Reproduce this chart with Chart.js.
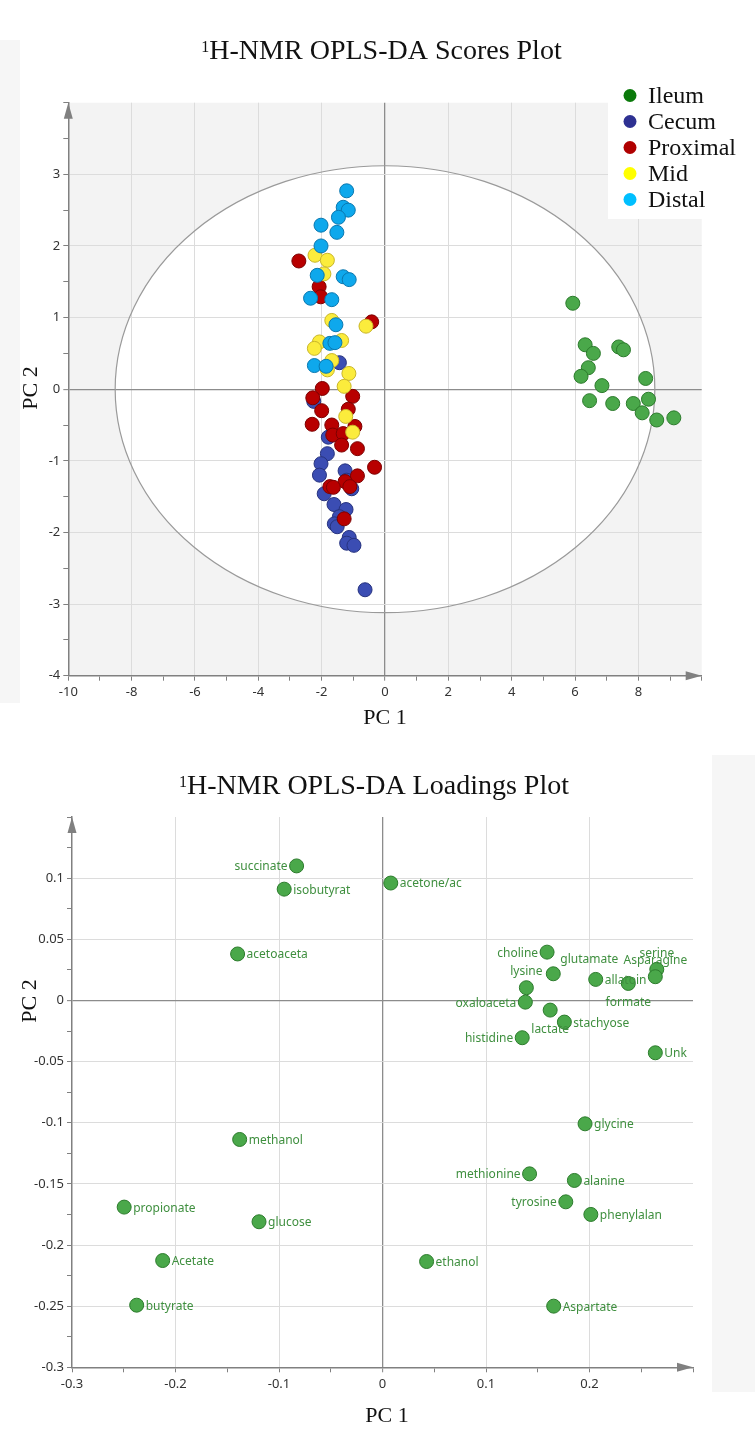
<!DOCTYPE html>
<html>
<head>
<meta charset="utf-8">
<title>1H-NMR OPLS-DA</title>
<script src="https://cdn.jsdelivr.net/npm/chart.js@4"></script>
<style>
  html, body { margin: 0; padding: 0; background: #fff; }
  body { width: 755px; height: 1435px; position: relative; overflow: hidden; }
  .panel { position: absolute; left: 0; }
  .strip { position: absolute; background: #f6f6f6; }
</style>
</head>
<body>
<div class="strip" style="left:0;top:40px;width:20px;height:663px"></div>
<div class="strip" style="left:712px;top:755px;width:43px;height:637px"></div>
<div class="panel" style="top:0"><canvas id="scores" width="755" height="735"></canvas></div>
<div class="panel" style="top:740px"><canvas id="loadings" width="755" height="695"></canvas></div>
<script>
// ---------- Scores (PC1, PC2) per intestinal segment ----------
const groupNames = ['Ileum', 'Cecum', 'Proximal', 'Mid', 'Distal'];

const ileumScores = [
  [5.93, 1.20], [6.32, 0.62], [6.58, 0.50], [7.38, 0.59], [7.53, 0.55], [6.42, 0.30],
  [6.19, 0.18], [8.23, 0.15], [6.85, 0.05], [6.46, -0.16], [7.19, -0.20], [7.84, -0.20],
  [8.32, -0.14], [8.12, -0.33], [8.58, -0.43], [9.12, -0.40]
];
const cecumScores = [
  [-1.44, 0.37], [-2.25, -0.17], [-1.79, -0.67], [-1.82, -0.90], [-2.02, -1.04], [-2.07, -1.20],
  [-1.26, -1.14], [-1.21, -1.27], [-1.05, -1.39], [-1.92, -1.46], [-1.61, -1.61], [-1.23, -1.68],
  [-1.44, -1.78], [-1.60, -1.88], [-1.51, -1.92], [-1.13, -2.07], [-1.21, -2.15], [-0.98, -2.18],
  [-0.63, -2.80]
];
const proximalScores = [
  [-2.72, 1.79], [-2.08, 1.43], [-2.03, 1.29], [-0.42, 0.94], [-1.98, 0.01], [-2.28, -0.12],
  [-1.02, -0.10], [-2.00, -0.30], [-1.16, -0.28], [-2.30, -0.49], [-0.95, -0.52], [-1.68, -0.50],
  [-1.65, -0.64], [-1.32, -0.62], [-1.37, -0.78], [-0.87, -0.83], [-0.33, -1.09], [-0.87, -1.21],
  [-1.26, -1.29], [-1.11, -1.36], [-1.74, -1.36], [-1.63, -1.37], [-1.29, -1.81]
];
const midScores = [
  [-2.21, 1.87], [-1.82, 1.80], [-1.93, 1.61], [-1.68, 0.96], [-0.60, 0.88], [-1.37, 0.68],
  [-2.07, 0.66], [-2.23, 0.57], [-1.68, 0.40], [-1.82, 0.27], [-1.14, 0.22], [-1.29, 0.04],
  [-1.24, -0.38], [-1.02, -0.60]
];
const distalScores = [
  [-1.21, 2.77], [-1.32, 2.54], [-1.16, 2.50], [-1.47, 2.40], [-2.02, 2.29], [-1.52, 2.19],
  [-2.02, 2.00], [-2.14, 1.59], [-1.32, 1.57], [-1.13, 1.53], [-2.35, 1.27], [-1.68, 1.25],
  [-1.55, 0.90], [-1.74, 0.64], [-1.58, 0.65], [-2.23, 0.33], [-1.86, 0.32]
];
const groupScores = [ileumScores, cecumScores, proximalScores, midScores, distalScores];

// Hotelling T2 (95%) ellipse semi-axes, in PC1 / PC2 units
const t2Ellipse = [8.52, 3.12];

// ---------- Loadings ----------
const loadingNames = [
  'succinate', 'isobutyrat', 'acetone/ac', 'acetoaceta', 'choline', 'glutamate', 'lysine',
  'oxaloaceta', 'allatoin', 'formate', 'serine', 'Asparagine', 'lactate', 'stachyose',
  'histidine', 'Unk', 'glycine', 'methanol', 'methionine', 'alanine', 'tyrosine',
  'phenylalan', 'propionate', 'glucose', 'Acetate', 'ethanol', 'butyrate', 'Aspartate'
];
const loadingPC1 = [
  -0.083, -0.095, 0.008, -0.140, 0.159, 0.165, 0.139,
  0.138, 0.206, 0.2375, 0.265, 0.2636, 0.162, 0.1757,
  0.135, 0.2636, 0.1957, -0.138, 0.1421, 0.1854, 0.1771,
  0.2013, -0.2496, -0.1193, -0.2124, 0.0426, -0.2375, 0.1654
];
const loadingPC2 = [
  0.110, 0.091, 0.096, 0.038, 0.0395, 0.0218, 0.0104,
  -0.0014, 0.0172, 0.0139, 0.0254, 0.0194, -0.0079, -0.0177,
  -0.0305, -0.0428, -0.1009, -0.1137, -0.1418, -0.1472, -0.1647,
  -0.175, -0.169, -0.181, -0.2127, -0.2135, -0.2492, -0.250
];

// ---------- Styling ----------
const pointFill = ['#4aa84a', '#3b4db3', '#b80000', '#fbec3c', '#0ea8ec'];
const pointEdge = ['#2c7b2c', '#27337f', '#7d0000', '#c9b62a', '#0a78b0'];
const legendDot = ['#0b7a0b', '#2e3192', '#b00000', '#ffff00', '#00bfff'];
const labelSide = {
  succinate: 'left', choline: 'left', oxaloaceta: 'left', histidine: 'left',
  methionine: 'left', tyrosine: 'left', glutamate: 'aboveRight', lysine: 'above',
  serine: 'above', Asparagine: 'above', formate: 'below', lactate: 'below'
};

const serif = '"Liberation Serif", "Times New Roman", serif';
const sans = '"Noto Sans", "Open Sans", sans-serif';
const tickFont = { family: sans, size: 13 };

function makeScale(min, max, minor, major, size, horizontal) {
  const eps = minor / 10;
  const k = Math.round(major / minor);
  const isMajor = v => Math.abs(Math.round(v / minor) % k) === 0;
  return {
    type: 'linear', min, max,
    afterFit: s => { if (horizontal) s.height = size; else s.width = size; },
    border: { display: true, color: '#808080', width: 1.5 },
    grid: {
      color: c => {
        const v = c.tick.value;
        if (Math.abs(v) < eps) return '#8c8c8c';
        if (Math.abs(v - min) < eps || Math.abs(v - max) < eps) return 'rgba(0,0,0,0)';
        return isMajor(v) ? '#dcdcdc' : 'rgba(0,0,0,0)';
      },
      lineWidth: c => Math.abs(c.tick.value) < eps ? 1.3 : 1,
      drawTicks: true, tickLength: 5, tickWidth: 1, tickColor: '#808080'
    },
    ticks: {
      stepSize: minor, autoSkip: false, maxRotation: 0, maxTicksLimit: 1000,
      padding: horizontal ? 4 : 3, color: '#333', font: tickFont,
      callback: v => (isMajor(v) && Math.abs(v - max) > eps) ? String(Math.round(v * 1000) / 1000) : ''
    }
  };
}

function drawArrows(chart) {
  const { ctx, chartArea: a } = chart;
  ctx.save();
  ctx.fillStyle = '#808080';
  ctx.beginPath();
  ctx.moveTo(a.left, a.top);
  ctx.lineTo(a.left - 4.5, a.top + 16);
  ctx.lineTo(a.left + 4.5, a.top + 16);
  ctx.closePath();
  ctx.fill();
  ctx.beginPath();
  ctx.moveTo(a.right, a.bottom);
  ctx.lineTo(a.right - 16, a.bottom - 4.5);
  ctx.lineTo(a.right - 16, a.bottom + 4.5);
  ctx.closePath();
  ctx.fill();
  ctx.restore();
}

function drawTitle(ctx, text, cx, baseline) {
  ctx.save();
  ctx.fillStyle = '#111';
  ctx.textAlign = 'left';
  ctx.textBaseline = 'alphabetic';
  ctx.font = '28px ' + serif;
  const mainW = ctx.measureText(text).width;
  ctx.font = '16px ' + serif;
  const supW = ctx.measureText('1').width;
  const x0 = cx - (mainW + supW) / 2;
  ctx.fillText('1', x0, baseline - 7);
  ctx.font = '28px ' + serif;
  ctx.fillText(text, x0 + supW, baseline);
  ctx.restore();
}

function drawAxisTitles(ctx, xText, xPos, yText, yPos) {
  ctx.save();
  ctx.fillStyle = '#111';
  ctx.font = '22px ' + serif;
  ctx.textAlign = 'center';
  ctx.textBaseline = 'middle';
  ctx.fillText(xText, xPos[0], xPos[1]);
  ctx.translate(yPos[0], yPos[1]);
  ctx.rotate(-Math.PI / 2);
  ctx.fillText(yText, 0, 0);
  ctx.restore();
}

// ---------- Scores plot ----------
const scoresDecor = {
  id: 'scoresDecor',
  beforeDraw(chart) {
    const { ctx, chartArea: a, scales: { x, y } } = chart;
    ctx.save();
    ctx.fillStyle = '#f3f3f3';
    ctx.fillRect(a.left, a.top, a.right - a.left, a.bottom - a.top);
    const cx = x.getPixelForValue(0), cy = y.getPixelForValue(0);
    const rx = x.getPixelForValue(t2Ellipse[0]) - cx;
    const ry = cy - y.getPixelForValue(t2Ellipse[1]);
    ctx.beginPath();
    ctx.ellipse(cx, cy, rx, ry, 0, 0, Math.PI * 2);
    ctx.fillStyle = '#ffffff';
    ctx.fill();
    ctx.restore();
  },
  beforeDatasetsDraw(chart) {
    const { ctx, scales: { x, y } } = chart;
    const cx = x.getPixelForValue(0), cy = y.getPixelForValue(0);
    const rx = x.getPixelForValue(t2Ellipse[0]) - cx;
    const ry = cy - y.getPixelForValue(t2Ellipse[1]);
    ctx.save();
    ctx.beginPath();
    ctx.ellipse(cx, cy, rx, ry, 0, 0, Math.PI * 2);
    ctx.strokeStyle = '#9a9a9a';
    ctx.lineWidth = 1.2;
    ctx.stroke();
    ctx.restore();
  },
  afterDatasetsDraw(chart) {
    const { ctx } = chart;
    ctx.save();
    ctx.fillStyle = '#ffffff';
    ctx.fillRect(608, 80, 142, 139);
    ctx.font = '24px ' + serif;
    ctx.textAlign = 'left';
    ctx.textBaseline = 'middle';
    chart.data.datasets.forEach((ds, i) => {
      const yy = 96 + i * 26;
      ctx.beginPath();
      ctx.arc(630, yy - 0.5, 6.5, 0, Math.PI * 2);
      ctx.fillStyle = legendDot[i];
      ctx.fill();
      ctx.fillStyle = '#111';
      ctx.fillText(ds.label, 648, yy + 1);
    });
    ctx.restore();
  },
  afterDraw(chart) {
    drawArrows(chart);
    drawTitle(chart.ctx, 'H-NMR OPLS-DA Scores Plot', 381.5, 59);
    drawAxisTitles(chart.ctx, 'PC 1', [385, 718], 'PC 2', [31, 388]);
  }
};

new Chart(document.getElementById('scores'), {
  type: 'scatter',
  data: {
    datasets: groupNames.map((name, i) => ({
      label: name,
      data: groupScores[i].map(([x, y]) => ({ x, y })),
      backgroundColor: pointFill[i],
      borderColor: pointEdge[i],
      borderWidth: 1,
      pointRadius: 7,
      order: groupNames.length - 1 - i
    }))
  },
  options: {
    responsive: false,
    animation: false,
    events: [],
    layout: { padding: { left: 0, right: 53.3, top: 102.7, bottom: 0 } },
    scales: {
      x: makeScale(-10, 10, 1, 2, 59.3, true),
      y: makeScale(-4, 4, 0.5, 1, 68.3, false)
    },
    plugins: { legend: { display: false }, tooltip: { enabled: false } }
  },
  plugins: [scoresDecor]
});

// ---------- Loadings plot ----------
const loadingsDecor = {
  id: 'loadingsDecor',
  afterDatasetsDraw(chart) {
    const { ctx } = chart;
    const meta = chart.getDatasetMeta(0);
    ctx.save();
    ctx.font = '12px ' + sans;
    ctx.fillStyle = '#3f8f3f';
    ctx.textBaseline = 'middle';
    meta.data.forEach((pt, i) => {
      const name = loadingNames[i];
      const side = labelSide[name] || 'right';
      let tx = pt.x, ty = pt.y + 1;
      if (side === 'right') { ctx.textAlign = 'left'; tx += 9; }
      else if (side === 'left') { ctx.textAlign = 'right'; tx -= 9; }
      else if (side === 'above') { ctx.textAlign = 'center'; ty = pt.y - 16; }
      else if (side === 'aboveRight') { ctx.textAlign = 'left'; tx += 7; ty = pt.y - 14; }
      else if (side === 'below') { ctx.textAlign = 'center'; ty = pt.y + 19; }
      ctx.fillText(name, tx, ty);
    });
    ctx.restore();
  },
  afterDraw(chart) {
    drawArrows(chart);
    drawTitle(chart.ctx, 'H-NMR OPLS-DA Loadings Plot', 374, 54);
    drawAxisTitles(chart.ctx, 'PC 1', [387, 676], 'PC 2', [30, 261]);
  }
};

new Chart(document.getElementById('loadings'), {
  type: 'scatter',
  data: {
    datasets: [{
      label: 'Loadings',
      data: loadingPC1.map((x, i) => ({ x, y: loadingPC2[i] })),
      backgroundColor: pointFill[0],
      borderColor: pointEdge[0],
      borderWidth: 1,
      pointRadius: 7
    }]
  },
  options: {
    responsive: false,
    animation: false,
    events: [],
    layout: { padding: { left: 0, right: 62, top: 77, bottom: 0 } },
    scales: {
      x: makeScale(-0.3, 0.3, 0.05, 0.1, 67.7, true),
      y: makeScale(-0.3, 0.15, 0.025, 0.05, 72, false)
    },
    plugins: { legend: { display: false }, tooltip: { enabled: false } }
  },
  plugins: [loadingsDecor]
});
</script>
</body>
</html>
